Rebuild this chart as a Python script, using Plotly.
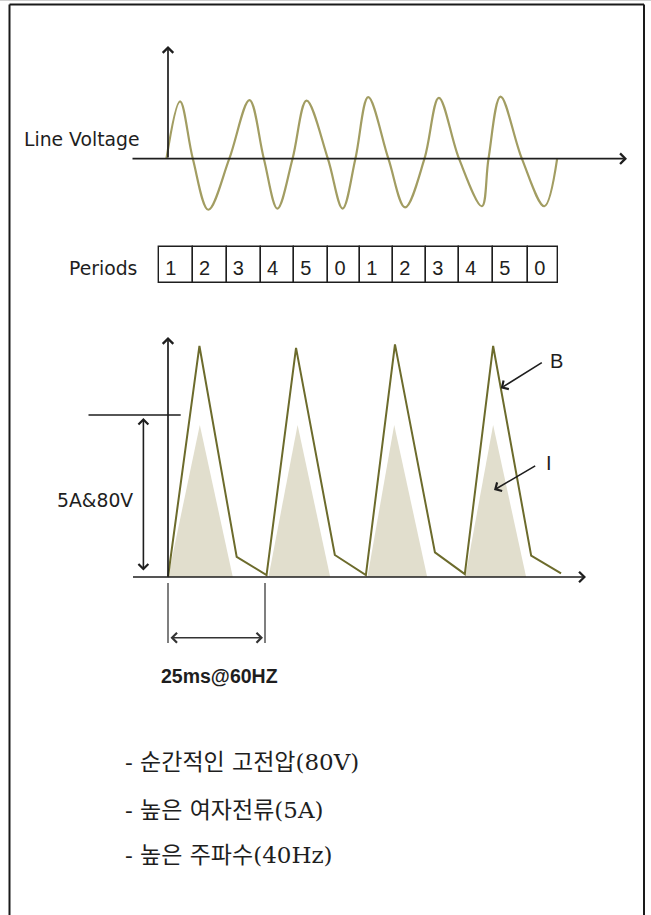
import plotly.graph_objects as go

# ---------------- data ----------------
# Line voltage: extrema and zero crossings (time in ms, voltage relative to peak)
volt_t = [-0.4, 3.1, 6.4, 10.4, 15.8, 21.0, 24.7, 28.2, 32.1, 35.7, 41.2, 45.0, 48.3,
          51.6, 56.8, 61.1, 66.1, 69.8, 75.0, 80.9, 82.6, 85.7, 91.2, 97.0, 100.3]
volt_v = [0, 0.99, 0, -0.88, 0, 1.01, 0, -0.86, 0, 1.00, 0, -0.86, 0,
          1.06, 0, -0.84, 0, 1.05, 0, -0.82, 0, 1.07, 0, -0.82, 0]

# Periods row
period_labels = ["1", "2", "3", "4", "5", "0", "1", "2", "3", "4", "5", "0"]
period_edges_ms = [-2.3, 6.4, 15.1, 23.9, 32.5, 41.3, 49.5, 58.0, 66.5, 75.0, 83.8, 92.8, 100.5]

# B waveform (time in ms, level in A-equivalent; 5 = "5A&80V" level)
b_t = [0, 8.1, 17.7, 25.4, 33.0, 43.0, 51.0, 58.5, 68.8, 76.5, 83.8, 93.6, 101.3]
b_v = [0, 7.13, 0.62, 0.06, 7.07, 0.68, 0.06, 7.18, 0.76, 0.09, 7.13, 0.66, 0.11]

# I pulses (triangles)
i_start = [0, 25.9, 51.4, 76.6]
i_peak_t = [8.2, 33.4, 58.3, 83.8]
i_end = [16.7, 41.8, 66.8, 92.3]
i_peak = [4.69, 4.69, 4.69, 4.69]

level_5a = 5
span_ms = 25

labels_kr = ["- 순간적인 고전압(80V)", "- 높은 여자전류(5A)", "- 높은 주파수(40Hz)"]

# ---------------- layout helpers ----------------
W, H = 651, 915
PX_PER_MS = 3.88
ORIGIN_PX = 168.0


def xp(px):
    return px / W


def yp(py):
    return 1 - py / H


def yrange(zero_py, px_per_unit):
    return [-(H - zero_py) / px_per_unit, zero_py / px_per_unit]


WAVE_COL = "#a29d62"
B_COL = "#6c6b2c"
I_COL = "#e1decd"
INK = "#1e1e1e"

fig = go.Figure()

# I pulses
for s, pt, e, pv in zip(i_start, i_peak_t, i_end, i_peak):
    fig.add_trace(go.Scatter(x=[s, pt, e, s], y=[0, pv, 0, 0], yaxis="y2",
                             mode="lines", fill="toself", fillcolor=I_COL,
                             line=dict(width=0, color=I_COL), hoverinfo="skip"))

# B line
fig.add_trace(go.Scatter(x=b_t, y=b_v, yaxis="y2", mode="lines",
                         line=dict(color=B_COL, width=2), hoverinfo="skip"))

# Voltage wave
fig.add_trace(go.Scatter(x=volt_t, y=volt_v, yaxis="y", mode="lines",
                         line=dict(color=WAVE_COL, width=2.2, shape="spline", smoothing=1.0),
                         hoverinfo="skip"))

# Periods boxes
centers = [(a + b) / 2 for a, b in zip(period_edges_ms[:-1], period_edges_ms[1:])]
widths = [b - a for a, b in zip(period_edges_ms[:-1], period_edges_ms[1:])]
fig.add_trace(go.Bar(x=centers, y=[1] * len(centers), base=[0] * len(centers), width=widths,
                     yaxis="y3", marker=dict(color="white", line=dict(color=INK, width=1.4)),
                     hoverinfo="skip"))
fig.add_trace(go.Scatter(x=[a + 1.6 for a in period_edges_ms[:-1]], y=[0.36] * len(period_labels),
                         yaxis="y3", mode="text", text=period_labels, textposition="middle right",
                         textfont=dict(family="Liberation Sans, Arial", size=20, color=INK),
                         hoverinfo="skip"))

annotations = []
shapes = []


def arrow(x0, y0, x1, y1, both=False, width=1.7, color=INK, size=1.2):
    annotations.append(dict(
        x=xp(x1), y=yp(y1), xref="paper", yref="paper",
        ax=x0 - x1, ay=y0 - y1, axref="pixel", ayref="pixel",
        text="", showarrow=True, arrowhead=4, arrowsize=size, arrowwidth=width,
        arrowcolor=color, standoff=0, startstandoff=0,
        arrowside="end+start" if both else "end", startarrowhead=4, startarrowsize=size))


def label(txt, px, py, size=18, family="DejaVu Sans", color=INK, anchor="left", bold=False):
    annotations.append(dict(
        x=xp(px), y=yp(py), xref="paper", yref="paper", text=f"<b>{txt}</b>" if bold else txt,
        showarrow=False, xanchor=anchor, yanchor="middle",
        font=dict(family=family, size=size, color=color)))


def pline(x0, y0, x1, y1, width=2, color=INK):
    shapes.append(dict(type="line", xref="paper", yref="paper",
                       x0=xp(x0), y0=yp(y0), x1=xp(x1), y1=yp(y1),
                       line=dict(color=color, width=width)))


# frame
pline(0, 0.5, W, 0.5, width=1, color="#cfcfcf")
pline(9.5, 4.5, 644, 4.5, width=2, color="#1a1a1a")
pline(9.5, 4.5, 9.5, H + 2, width=2, color="#1a1a1a")
pline(644, 4.5, 644, H + 2, width=2, color="#1a1a1a")

# voltage axes
arrow(ORIGIN_PX, 159, ORIGIN_PX, 46)
arrow(131, 158.7, 627, 158.7)
label("Line Voltage", 22, 140, size=18.8)

# periods
label("Periods", 67, 268, size=18.8)

# bottom axes
arrow(ORIGIN_PX, 578, ORIGIN_PX, 337)
arrow(131.5, 577, 586, 577)

# 5A&80V level
shapes.append(dict(type="line", xref="paper", yref="y2", x0=xp(88.5), x1=xp(180.7),
                   y0=level_5a, y1=level_5a, line=dict(color=INK, width=1.3)))
arrow(143.4, 572, 143.4, 418, both=True, width=1.6)
label("5A&80V", 55, 500, size=18.8)

# 25 ms span
for t in (0, span_ms):
    shapes.append(dict(type="line", xref="x", yref="paper", x0=t, x1=t,
                       y0=yp(583), y1=yp(643), line=dict(color="#555555", width=1.5)))
arrow(169, 637.7, 263, 637.7, both=True, width=1.6, color="#333333")
label("25ms@60HZ", 159, 676, size=19.5, family="Liberation Sans, Arial", bold=True)

# B and I callouts
arrow(543.3, 361.7, 500.7, 388.3, width=1.6)
label("B", 556, 361, size=20, family="Liberation Sans, Arial", anchor="center")
arrow(536.7, 465, 494, 490, width=1.6)
label("I", 549, 463, size=20, family="Liberation Sans, Arial", anchor="center")

# Korean notes
for txt, py in zip(labels_kr, [762, 810, 855]):
    label(txt, 123, py, size=23, family="DejaVu Serif, Noto Sans CJK KR")

xr = [-ORIGIN_PX / PX_PER_MS, (W - ORIGIN_PX) / PX_PER_MS]
fig.update_layout(
    width=W, height=H, margin=dict(l=0, r=0, t=0, b=0),
    paper_bgcolor="white", plot_bgcolor="white", showlegend=False,
    xaxis=dict(range=xr, domain=[0, 1], visible=False, fixedrange=True),
    yaxis=dict(range=yrange(158.7, 58), domain=[0, 1], visible=False, fixedrange=True),
    yaxis2=dict(range=yrange(577, 32.4), overlaying="y", visible=False, fixedrange=True),
    yaxis3=dict(range=yrange(283, 36), overlaying="y", visible=False, fixedrange=True),
    annotations=annotations, shapes=shapes, bargap=0,
)

fig.write_html("out.html", config={"displayModeBar": False},
               post_script="document.body.style.margin='0';document.body.style.overflow='hidden';")
